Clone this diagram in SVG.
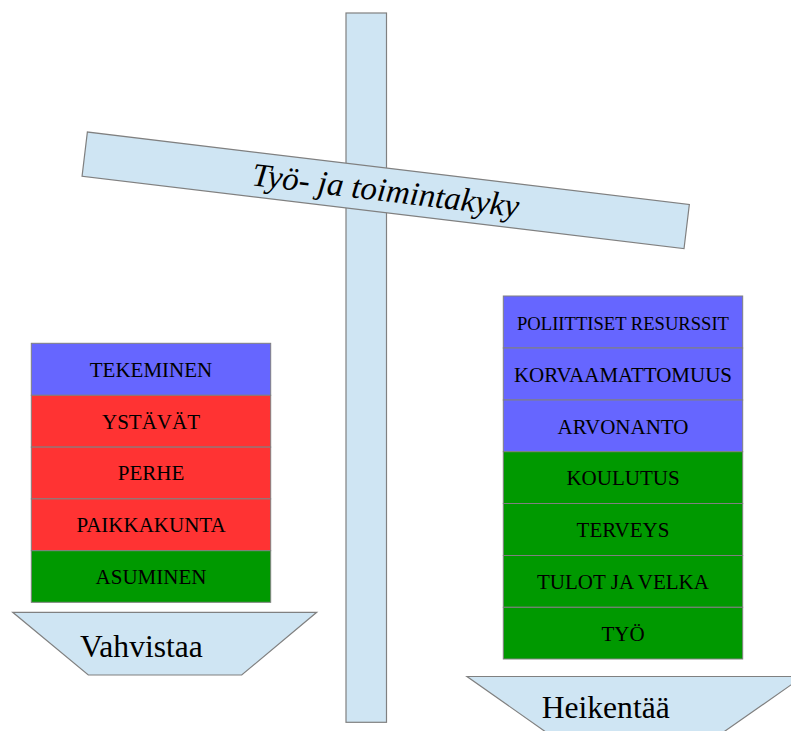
<svg xmlns="http://www.w3.org/2000/svg" width="791" height="731" viewBox="0 0 791 731">
<style>
.lb{fill:#cfe5f3;stroke:#808080;stroke-width:1.2}
.blue{fill:#6666ff;stroke:#808080;stroke-width:1}
.red{fill:#ff3333;stroke:#808080;stroke-width:1}
.green{fill:#009900;stroke:#808080;stroke-width:1}
.t{font-family:"Liberation Serif","Times New Roman",serif;font-size:21px;fill:#000;text-anchor:middle}
.big{font-family:"Liberation Serif","Times New Roman",serif;font-size:31.6px;fill:#000}
</style>
<rect width="791" height="731" fill="#fff"/>
<g id="pillar"><rect class="lb" x="346" y="13" width="40.5" height="709.3"/></g>
<g id="beam" transform="translate(385.75,190.3) rotate(6.86)">
<rect class="lb" x="-303.2" y="-22.25" width="606.3" height="44.5"/>
<text class="big" x="0" y="11" text-anchor="middle" style="font-style:italic;font-size:33px">Työ- ja toimintakyky</text>
</g>
<g id="left-stack">
<g id="tekeminen"><rect class="blue" x="31.3" y="343.3" width="239.4" height="52"/><text class="t" x="151" y="376.7">TEKEMINEN</text></g>
<g id="ystavat"><rect class="red" x="31.3" y="395.3" width="239.4" height="51.8"/><text class="t" x="151" y="428.5">YSTÄVÄT</text></g>
<g id="perhe"><rect class="red" x="31.3" y="447.1" width="239.4" height="51.8"/><text class="t" x="151" y="480.3">PERHE</text></g>
<g id="paikkakunta"><rect class="red" x="31.3" y="498.9" width="239.4" height="51.8"/><text class="t" x="151" y="532.1">PAIKKAKUNTA</text></g>
<g id="asuminen"><rect class="green" x="31.3" y="550.7" width="239.4" height="51.6"/><text class="t" x="151" y="583.9">ASUMINEN</text></g>
</g>
<g id="right-stack">
<g id="poliittiset"><rect class="blue" x="503.3" y="296" width="239.4" height="52"/><text class="t" x="623" y="330" style="font-size:18.6px">POLIITTISET RESURSSIT</text></g>
<g id="korvaamattomuus"><rect class="blue" x="503.3" y="348" width="239.4" height="52"/><text class="t" x="623" y="381.7">KORVAAMATTOMUUS</text></g>
<g id="arvonanto"><rect class="blue" x="503.3" y="400" width="239.4" height="51.7"/><text class="t" x="623" y="433.5">ARVONANTO</text></g>
<g id="koulutus"><rect class="green" x="503.3" y="451.7" width="239.4" height="51.8"/><text class="t" x="623" y="485.3">KOULUTUS</text></g>
<g id="terveys"><rect class="green" x="503.3" y="503.5" width="239.4" height="52"/><text class="t" x="623" y="537.2">TERVEYS</text></g>
<g id="tulot"><rect class="green" x="503.3" y="555.5" width="239.4" height="51.8"/><text class="t" x="623" y="589.1">TULOT JA VELKA</text></g>
<g id="tyo"><rect class="green" x="503.3" y="607.3" width="239.4" height="51.7"/><text class="t" x="623" y="641">TYÖ</text></g>
</g>
<g id="vahvistaa">
<polygon class="lb" points="12.7,612.3 316.7,612.3 241.7,675 88.3,675"/>
<text class="big" x="80" y="656.7">Vahvistaa</text>
</g>
<g id="heikentaa">
<polygon class="lb" points="467,676.5 803,676.5 703.6,746 565.7,746"/>
<text class="big" x="541.7" y="718.3">Heikentää</text>
</g>
<g id="connectors"></g>
</svg>
